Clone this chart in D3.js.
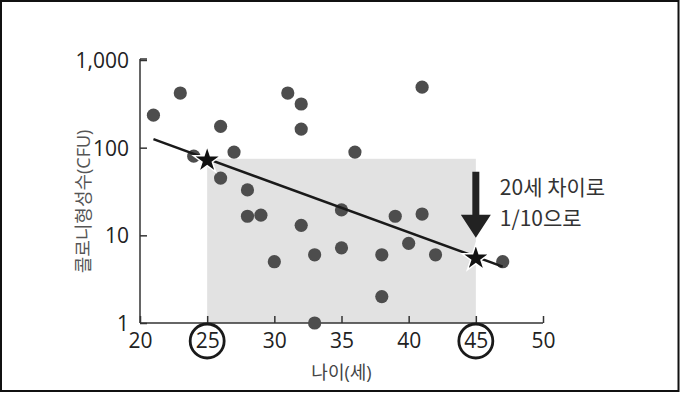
<!DOCTYPE html>
<html>
<head>
<meta charset="utf-8">
<script src="https://cdn.jsdelivr.net/npm/d3@7"></script>
<style>
  body { margin: 0; background: #fff; }
  svg text { font-family: "Open Sans", "Noto Sans CJK KR", sans-serif; }
</style>
</head>
<body>
<div id="chart"></div>
<script>
// ages (years) and colony counts (CFU)
const ages = [21, 23, 24, 26, 26, 27, 28, 28, 29, 30, 31, 32, 32, 32, 33, 33, 35, 35, 36, 38, 38, 39, 40, 41, 41, 42, 47];
const cfu  = [235, 420, 80, 175, 45, 89, 33, 16.5, 17, 5, 420, 315, 163, 13, 6, 1, 19.5, 7.2, 89, 6, 2, 16.5, 8.1, 17.5, 490, 6, 5];

// fitted line end points
const lineAges = [21, 47];
const lineCfu = [125, 4.4];

// highlighted ages
const starAges = [25, 45];

const xTicks = [20, 25, 30, 35, 40, 45, 50];
const yTicks = [1, 10, 100, 1000];
const noteLines = ["20세 차이로", "1/10으로"];

const W = 680, H = 393;
const margin = {top: 60, right: 137, bottom: 70, left: 140};

const svg = d3.select("#chart").append("svg")
    .attr("width", W)
    .attr("height", H);

// frame
svg.append("rect")
    .attr("x", 1).attr("y", 1)
    .attr("width", W - 2.5).attr("height", H - 3)
    .style("fill", "none")
    .style("stroke", "#111")
    .style("stroke-width", 2);

const x = d3.scaleLinear()
    .domain([20, 50])
    .range([margin.left, W - margin.right]);

const y = d3.scaleLog()
    .domain([1, 1000])
    .range([H - margin.bottom, margin.top]);

// log-linear fit through the two end points
const logLine = a => {
    let t = (a - lineAges[0]) / (lineAges[1] - lineAges[0]);
    let l = Math.log10(lineCfu[0]) + t * (Math.log10(lineCfu[1]) - Math.log10(lineCfu[0]));
    return Math.pow(10, l);
};

// grey band between the two stars
svg.append("rect")
    .attr("x", x(starAges[0]))
    .attr("y", y(logLine(starAges[0])))
    .attr("width", x(starAges[1]) - x(starAges[0]))
    .attr("height", y(1) - y(logLine(starAges[0])))
    .style("fill", "#e2e2e2");

// axes
const yAxis = svg.append("g")
    .attr("transform", `translate(${margin.left},0)`)
    .call(d3.axisRight(y).tickValues(yTicks).tickSize(7).tickFormat(d3.format(",")));
yAxis.selectAll("text")
    .attr("x", -11)
    .attr("dy", "0.35em")
    .style("text-anchor", "end");

const xAxis = svg.append("g")
    .attr("transform", `translate(0,${y(1)})`)
    .call(d3.axisTop(x).tickValues(xTicks).tickSize(7));
xAxis.selectAll("text")
    .attr("y", 18)
    .attr("dy", "0.35em");

[yAxis, xAxis].forEach(g => {
    g.select(".domain").style("stroke", "#333").style("stroke-width", 1.5);
    g.selectAll(".tick line").style("stroke", "#333").style("stroke-width", 1.5);
    g.selectAll(".tick text")
        .style("font-size", "21px")
        .style("fill", "#222");
});
// plain axis lines, with a small cap at the top of the y axis
yAxis.select(".domain").attr("d", `M0,${y(1000) - 1}V${y(1)}`);
yAxis.append("path")
    .attr("d", `M0,${y(1000) - 1}H7`)
    .style("stroke", "#333").style("stroke-width", 1.5);
xAxis.select(".domain").attr("d", `M${x(20)},0H${x(50)}`);

// circles around highlighted tick labels
svg.selectAll(".ring")
    .data(starAges)
    .join("circle")
    .attr("class", "ring")
    .attr("cx", d => x(d))
    .attr("cy", y(1) + 18)
    .attr("r", 17)
    .style("fill", "none")
    .style("stroke", "#1a1a1a")
    .style("stroke-width", 2.8);

// axis titles
svg.append("text")
    .attr("transform", `translate(${x(35)},${y(1) + 50}) `)
    .attr("text-anchor", "middle")
    .attr("dy", "0.35em")
    .style("font-size", "18px")
    .style("fill", "#444")
    .text("나이(세)");

svg.append("text")
    .attr("transform", `translate(84,${(y(1) + y(1000)) / 2 + 10}) rotate(-90)`)
    .attr("text-anchor", "middle")
    .attr("dy", "0.35em")
    .style("font-size", "18px")
    .style("fill", "#555")
    .text("콜로니형성수(CFU)");

// points
svg.selectAll(".dot")
    .data(ages.map((a, i) => ({age: a, cfu: cfu[i]})))
    .join("circle")
    .attr("class", "dot")
    .attr("cx", d => x(d.age))
    .attr("cy", d => y(d.cfu))
    .attr("r", 6.6)
    .style("fill", "#4d4d4d");

// fitted line
svg.append("path")
    .datum(lineAges.map((a, i) => ({age: a, cfu: lineCfu[i]})))
    .attr("d", d3.line().x(d => x(d.age)).y(d => y(d.cfu)))
    .style("fill", "none")
    .style("stroke", "#1a1a1a")
    .style("stroke-width", 2.5);

// stars on the line
svg.selectAll(".star")
    .data(starAges)
    .join("path")
    .attr("class", "star")
    .attr("transform", d => `translate(${x(d)},${y(logLine(d)) + 1.5})`)
    .attr("d", d3.symbol(d3.symbolStar, 230))
    .style("fill", "#111")
    .style("stroke", "#fff")
    .style("stroke-width", 1.5);

// arrow pointing at the second star
const ax = x(starAges[1]);
const tipY = y(logLine(starAges[1])) - 19;
svg.append("path")
    .attr("d", `M${ax - 3.5},${tipY - 66}H${ax + 3.5}V${tipY - 23}H${ax + 15}L${ax},${tipY}L${ax - 15},${tipY - 23}H${ax - 3.5}Z`)
    .style("fill", "#222");

// note
svg.append("g")
    .selectAll("text")
    .data(noteLines)
    .join("text")
    .attr("x", ax + 24)
    .attr("y", (d, i) => 195 + i * 31)
    .style("font-family", "'Noto Sans CJK KR', sans-serif")
    .style("font-size", "21px")
    .style("fill", "#333")
    .text(d => d);
</script>
</body>
</html>
